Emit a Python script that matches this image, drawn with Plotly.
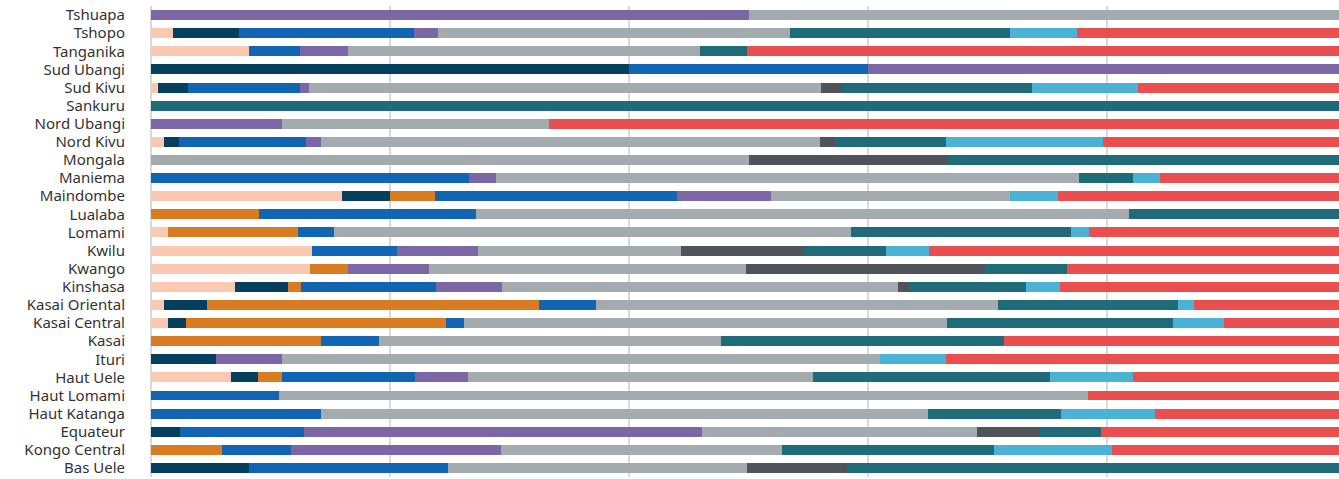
import plotly.graph_objects as go

provinces = ["Tshuapa", "Tshopo", "Tanganika", "Sud Ubangi", "Sud Kivu", "Sankuru",
             "Nord Ubangi", "Nord Kivu", "Mongala", "Maniema", "Maindombe", "Lualaba",
             "Lomami", "Kwilu", "Kwango", "Kinshasa", "Kasai Oriental", "Kasai Central",
             "Kasai", "Ituri", "Haut Uele", "Haut Lomami", "Haut Katanga", "Equateur",
             "Kongo Central", "Bas Uele"]

peach = [0, 1.8, 8.2, 0, 0.6, 0, 0, 1.1, 0, 0, 16.0, 0, 1.4, 13.5, 13.3, 7.0, 1.1, 1.4, 0, 0, 6.7, 0, 0, 0, 0, 0]
navy = [0, 5.6, 0, 40, 2.5, 0, 0, 1.25, 0, 0, 4.0, 0, 0, 0, 0, 4.5, 3.55, 1.5, 0, 5.4, 2.26, 0, 0, 2.4, 0, 8.2]
orange = [0, 0, 0, 0, 0, 0, 0, 0, 0, 0, 3.8, 9.0, 10.9, 0, 3.2, 1.06, 27.8, 21.8, 14.25, 0, 2.0, 0, 0, 0, 5.9, 0]
blue = [0, 14.6, 4.3, 20, 9.4, 0, 0, 10.6, 0, 26.6, 20.2, 18.2, 3.0, 7.06, 0, 11.3, 4.8, 1.48, 4.8, 0, 11.1, 10.7, 14.2, 10.4, 5.8, 16.65]
purple = [50, 2.0, 4.0, 40, 0.75, 0, 11.0, 1.25, 0, 2.26, 7.9, 0, 0, 6.8, 6.8, 5.5, 0, 0, 0, 5.6, 4.5, 0, 0, 33.3, 17.6, 0]
gray = [50, 29.5, 29.4, 0, 42.8, 0, 22.3, 41.8, 50, 48.8, 20.0, 54.6, 43.3, 17.0, 26.5, 33.1, 33.6, 40.4, 28.6, 50.0, 28.8, 67.7, 50.8, 23.0, 23.5, 25.0]
dgray = [0, 0, 0, 0, 1.75, 0, 0, 1.25, 16.7, 0, 0, 0, 0, 10.3, 20.0, 0.98, 0, 0, 0, 0, 0, 0, 0, 5.3, 0, 8.4]
teal = [0, 18.4, 4.0, 0, 15.9, 100, 0, 9.3, 33.3, 4.5, 0, 18.2, 18.4, 6.8, 6.8, 9.8, 15.1, 18.9, 23.7, 0, 19.9, 0, 11.1, 5.1, 17.7, 41.75]
lblue = [0, 5.6, 0, 0, 8.9, 0, 0, 13.1, 0, 2.3, 4.0, 0, 1.5, 3.6, 0, 2.8, 1.3, 4.3, 0, 5.55, 6.9, 0, 7.9, 0, 9.9, 0]
red = [0, 22.5, 50.1, 0, 17.4, 0, 66.7, 20.35, 0, 15.54, 24.1, 0, 21.5, 34.94, 23.4, 23.96, 12.75, 10.22, 28.65, 33.45, 17.84, 21.6, 16.0, 20.9, 19.6, 0]

series = [peach, navy, orange, blue, purple, gray, dgray, teal, lblue, red]
colors = ["#fbc9b1", "#053f5e", "#d97b20", "#1265b3", "#7b66a6",
          "#a3abae", "#505357", "#1f6b7a", "#4ab3d5", "#e84f4e"]

fig = go.Figure()
for vals, col in zip(series, colors):
    fig.add_trace(go.Bar(y=provinces, x=vals, orientation="h",
                         marker=dict(color=col, line=dict(width=0)),
                         hoverinfo="x+y"))

fig.update_layout(
    barmode="stack",
    bargap=0.45,
    width=1339, height=479,
    margin=dict(l=151, r=0, t=6, b=2),
    plot_bgcolor="white", paper_bgcolor="white",
    showlegend=False,
    font=dict(family="Noto Sans", size=15, color="#333333"),
)
fig.update_xaxes(range=[0, 99.4], dtick=20, showticklabels=False,
                 showgrid=True, gridcolor="#d9d9d9", gridwidth=2,
                 zeroline=True, zerolinecolor="#d9d9d9", zerolinewidth=2)
fig.update_yaxes(autorange="reversed", showgrid=False, ticklabelstandoff=25,
                 automargin=False, tickmode="array",
                 tickvals=provinces, ticktext=provinces,
                 tickfont=dict(size=15, color="#333333"))

fig.write_html("out.html", config={"displayModeBar": False},
               post_script="document.body.style.margin='0';document.body.style.padding='0';")
